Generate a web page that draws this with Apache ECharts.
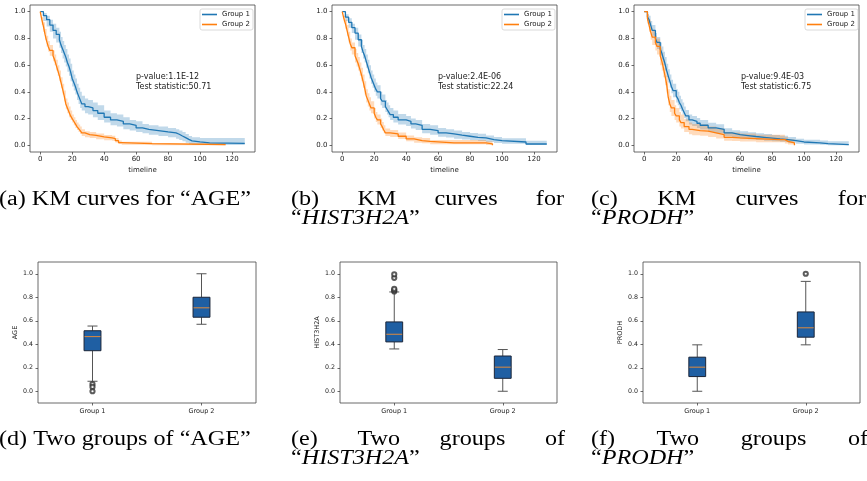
<!DOCTYPE html>
<html>
<head>
<meta charset="utf-8">
<script src="https://cdn.jsdelivr.net/npm/echarts@6/dist/echarts.min.js"></script>
<style>
  html, body { margin: 0; padding: 0; background: #fff; }
  #chart { width: 867px; height: 481px; }
</style>
</head>
<body>
<div id="chart"></div>
<script>
// Kaplan-Meier estimates: rows of [time, survival, lower CI, upper CI]
const kmAgeG1 = [
  [0,1.00,1.00,1.00],[2,0.97,0.93,0.99],[4,0.94,0.89,0.97],[6,0.90,0.85,0.94],
  [8,0.86,0.80,0.91],[10,0.83,0.77,0.88],[12,0.79,0.73,0.85],[13,0.75,0.69,0.81],
  [14,0.72,0.65,0.78],[15,0.69,0.62,0.75],[16,0.66,0.59,0.72],[17,0.62,0.55,0.68],
  [18,0.59,0.52,0.65],[19,0.55,0.48,0.61],[20,0.50,0.44,0.56],[21,0.47,0.41,0.53],
  [22,0.44,0.38,0.50],[23,0.40,0.34,0.46],[24,0.37,0.31,0.43],[25,0.34,0.28,0.40],
  [26,0.31,0.26,0.37],[28,0.29,0.24,0.35],[30,0.28,0.23,0.34],[33,0.26,0.21,0.32],
  [36,0.24,0.19,0.30],[40,0.21,0.17,0.26],[44,0.19,0.15,0.24],[48,0.18,0.14,0.23],
  [52,0.16,0.12,0.21],[56,0.15,0.11,0.19],[60,0.13,0.10,0.18],[64,0.12,0.09,0.16],
  [68,0.11,0.08,0.15],[74,0.10,0.07,0.14],[80,0.093,0.06,0.13],[85,0.083,0.05,0.12],
  [87,0.07,0.04,0.11],[89,0.058,0.03,0.10],[91,0.045,0.02,0.085],[93,0.033,0.01,0.07],
  [95,0.025,0.005,0.06],[100,0.018,0.002,0.055],[106,0.015,0.002,0.055],[128,0.013,0.0,0.05]
];
const kmAgeG2 = [
  [0,1.00,1.00,1.00],[1,0.94,0.90,0.96],[2,0.89,0.85,0.92],[3,0.83,0.79,0.87],
  [4,0.78,0.74,0.82],[5,0.74,0.70,0.78],[6,0.71,0.67,0.75],[8,0.67,0.63,0.71],
  [9,0.64,0.60,0.68],[10,0.60,0.56,0.64],[11,0.56,0.52,0.60],[12,0.52,0.48,0.56],
  [13,0.47,0.43,0.51],[14,0.42,0.38,0.46],[15,0.37,0.33,0.41],[16,0.31,0.27,0.35],
  [17,0.28,0.24,0.32],[18,0.25,0.21,0.29],[19,0.22,0.19,0.26],[20,0.20,0.17,0.23],
  [21,0.18,0.15,0.21],[22,0.16,0.13,0.19],[23,0.14,0.115,0.17],[24,0.125,0.10,0.155],
  [25,0.11,0.085,0.14],[26,0.093,0.07,0.12],[28,0.08,0.06,0.105],[31,0.074,0.055,0.10],
  [35,0.063,0.045,0.088],[40,0.055,0.038,0.078],[45,0.05,0.034,0.072],[47,0.035,0.022,0.055],
  [49,0.02,0.01,0.036],[51,0.013,0.005,0.027],[70,0.005,0.001,0.018],[116,0.005,0.001,0.018]
];
const kmHistG1 = [
  [0,1.0,1.0,1.0],[2,0.96,0.93,0.98],[4,0.92,0.88,0.95],[6,0.88,0.84,0.91],
  [8,0.84,0.79,0.88],[10,0.79,0.74,0.83],[12,0.74,0.69,0.79],[13,0.70,0.65,0.75],
  [14,0.67,0.62,0.72],[15,0.63,0.58,0.68],[16,0.59,0.54,0.64],[17,0.55,0.50,0.60],
  [18,0.51,0.46,0.56],[19,0.48,0.43,0.53],[20,0.45,0.40,0.50],[21,0.42,0.37,0.47],
  [22,0.40,0.35,0.45],[24,0.35,0.30,0.40],[25,0.33,0.28,0.38],[27,0.29,0.25,0.34],
  [28,0.27,0.23,0.32],[29,0.25,0.21,0.30],[30,0.23,0.19,0.28],[32,0.21,0.17,0.26],
  [35,0.19,0.155,0.235],[40,0.18,0.145,0.22],[43,0.16,0.125,0.20],[46,0.15,0.115,0.19],
  [50,0.12,0.09,0.16],[55,0.11,0.08,0.15],[60,0.093,0.065,0.13],[65,0.085,0.058,0.12],
  [70,0.076,0.05,0.11],[75,0.068,0.044,0.10],[80,0.06,0.037,0.092],[85,0.055,0.033,0.087],
  [90,0.043,0.024,0.073],[95,0.035,0.018,0.063],[100,0.025,0.011,0.052],[115,0.01,0.002,0.035],
  [128,0.005,0.0,0.03]
];
const kmHistG2 = [
  [0,1.0,1.0,1.0],[1,0.95,0.92,0.97],[2,0.91,0.87,0.94],[3,0.86,0.82,0.90],
  [4,0.81,0.77,0.85],[5,0.76,0.71,0.80],[6,0.73,0.68,0.77],[8,0.67,0.62,0.72],
  [9,0.64,0.59,0.69],[10,0.61,0.56,0.66],[11,0.57,0.52,0.62],[12,0.53,0.48,0.58],
  [13,0.48,0.43,0.53],[14,0.43,0.38,0.48],[15,0.37,0.32,0.42],[16,0.34,0.29,0.39],
  [17,0.31,0.26,0.36],[18,0.28,0.24,0.33],[20,0.24,0.20,0.28],[21,0.21,0.175,0.25],
  [22,0.19,0.155,0.23],[24,0.16,0.13,0.20],[25,0.14,0.11,0.175],[26,0.115,0.09,0.15],
  [27,0.093,0.07,0.125],[30,0.085,0.063,0.115],[35,0.068,0.048,0.096],[40,0.048,0.031,0.074],
  [45,0.035,0.02,0.06],[50,0.03,0.016,0.054],[55,0.018,0.008,0.04],[70,0.018,0.008,0.04],
  [90,0.01,0.003,0.03],[94,0.0,0.0,0.015]
];
const kmProdhG1 = [
  [0,1.0,1.0,1.0],[2,0.96,0.93,0.98],[3,0.94,0.90,0.97],[4,0.90,0.86,0.93],
  [5,0.86,0.82,0.90],[7,0.80,0.75,0.84],[8,0.77,0.72,0.81],[10,0.72,0.67,0.77],
  [11,0.69,0.64,0.74],[12,0.65,0.60,0.70],[13,0.61,0.56,0.66],[14,0.56,0.51,0.61],
  [15,0.52,0.47,0.57],[16,0.48,0.43,0.53],[17,0.44,0.39,0.49],[18,0.41,0.36,0.46],
  [20,0.37,0.32,0.42],[21,0.35,0.30,0.40],[22,0.32,0.27,0.37],[23,0.30,0.255,0.345],
  [24,0.27,0.23,0.32],[25,0.245,0.205,0.29],[26,0.22,0.18,0.265],[28,0.19,0.155,0.23],
  [30,0.18,0.145,0.22],[33,0.165,0.13,0.205],[35,0.15,0.118,0.19],[40,0.13,0.10,0.168],
  [45,0.12,0.09,0.158],[50,0.093,0.068,0.128],[55,0.08,0.057,0.113],[60,0.073,0.051,0.105],
  [65,0.066,0.045,0.097],[70,0.06,0.04,0.09],[75,0.054,0.035,0.084],[80,0.048,0.03,0.077],
  [85,0.043,0.026,0.071],[90,0.035,0.02,0.062],[95,0.025,0.012,0.05],[100,0.018,0.007,0.042],
  [110,0.013,0.004,0.036],[115,0.005,0.0,0.03],[128,0.005,0.0,0.028]
];
const kmProdhG2 = [
  [0,1.0,1.0,1.0],[2,0.95,0.91,0.98],[3,0.90,0.85,0.94],[4,0.85,0.79,0.89],
  [5,0.81,0.75,0.86],[7,0.77,0.71,0.82],[8,0.74,0.68,0.80],[10,0.67,0.60,0.73],
  [11,0.63,0.56,0.69],[12,0.58,0.51,0.64],[13,0.52,0.45,0.58],[14,0.46,0.39,0.52],
  [15,0.36,0.30,0.42],[16,0.31,0.25,0.37],[17,0.28,0.22,0.34],[19,0.24,0.19,0.30],
  [20,0.22,0.17,0.28],[22,0.19,0.14,0.25],[23,0.17,0.125,0.23],[25,0.14,0.10,0.195],
  [28,0.12,0.083,0.17],[30,0.11,0.075,0.16],[35,0.106,0.072,0.155],[40,0.093,0.062,0.14],
  [45,0.08,0.051,0.125],[50,0.06,0.035,0.10],[55,0.055,0.032,0.095],[60,0.05,0.028,0.088],
  [70,0.043,0.023,0.08],[85,0.043,0.023,0.08],[88,0.03,0.014,0.063],[90,0.018,0.006,0.045],
  [94,0.0,0.0,0.03]
];

// Log-rank test results per feature
const pValues = ['1.1E-12', '2.4E-06', '9.4E-03'];
const testStats = ['50.71', '22.24', '6.75'];

// Box statistics per group: [lower whisker, Q1, median, Q3, upper whisker]
const groupNames = ['Group 1', 'Group 2'];
const ageBox = [[0.085, 0.345, 0.465, 0.515, 0.555], [0.57, 0.63, 0.71, 0.80, 1.0]];
const ageOutliers = [[0, 0.06], [0, 0.037], [0, 0.0]];
const histBox = [[0.36, 0.42, 0.485, 0.59, 0.845], [0.0, 0.11, 0.205, 0.30, 0.355]];
const histOutliers = [[0, 0.85], [0, 0.86], [0, 0.872], [0, 0.965], [0, 0.995]];
const prodhBox = [[0.0, 0.125, 0.205, 0.29, 0.395], [0.395, 0.46, 0.54, 0.675, 0.935]];
const prodhOutliers = [[1, 1.0]];
const featureNames = ['AGE', 'HIST3H2A', 'PRODH'];

const timeTicks = [0, 20, 40, 60, 80, 100, 120];
const kmTicks = [0, 0.2, 0.4, 0.6, 0.8, 1.0];
const boxTicks = [0, 0.2, 0.4, 0.6, 0.8, 1.0];

// Sub-figure captions (words of each typeset line)
const captionLines = [
  { words: ['(a)', 'KM', 'curves', 'for', '“AGE”'] },
  { words: ['(b)', 'KM', 'curves', 'for'] },
  { rich: '“{i|HIST3H2A}”' },
  { words: ['(c)', 'KM', 'curves', 'for'] },
  { rich: '“{i|PRODH}”' },
  { words: ['(d)', 'Two', 'groups', 'of', '“AGE”'] },
  { words: ['(e)', 'Two', 'groups', 'of'] },
  { rich: '“{i|HIST3H2A}”' },
  { words: ['(f)', 'Two', 'groups', 'of'] },
  { rich: '“{i|PRODH}”' }
];
// Where each caption line sits: column left/right, baseline row, justified or natural spacing
const captionLayout = [
  { x0: -1, x1: 251, y: 200, justify: false },
  { x0: 291, x1: 564, y: 200, justify: true },
  { x0: 291, y: 219 },
  { x0: 591, x1: 866, y: 200, justify: true },
  { x0: 591, y: 219 },
  { x0: -1, x1: 247, y: 440, justify: false },
  { x0: 291, x1: 565, y: 440, justify: true },
  { x0: 291, y: 459 },
  { x0: 591, x1: 868, y: 440, justify: true },
  { x0: 591, y: 459 }
];

const BLUE = '#1f77b4', ORANGE = '#ff7f0e';
const BLUE_BAND = 'rgba(31,119,180,0.28)', ORANGE_BAND = 'rgba(255,127,14,0.28)';
const SANS = '"DejaVu Sans", sans-serif';
const SERIF_SIZE = 20;
const SERIF = SERIF_SIZE + 'px "Liberation Serif", serif';
const TXT = '#222';

const kmGrids = [
  { left: 30, top: 5, width: 225, height: 147 },
  { left: 332, top: 5, width: 225, height: 147 },
  { left: 634, top: 5, width: 225, height: 147 }
];
const boxGrids = [
  { left: 38, top: 262, width: 218, height: 141 },
  { left: 340, top: 262, width: 217, height: 141 },
  { left: 643, top: 262, width: 217, height: 141 }
];
const legendPos = [{ left: 200, top: 9 }, { left: 502, top: 9 }, { left: 805, top: 9 }];
const statPos = [{ x: 136, y: 82 }, { x: 438, y: 82 }, { x: 741, y: 82 }];
const yNameGap = [19, 19, 19];

const kmCurves = [[kmAgeG1, kmAgeG2], [kmHistG1, kmHistG2], [kmProdhG1, kmProdhG2]];
const boxSets = [[ageBox, ageOutliers], [histBox, histOutliers], [prodhBox, prodhOutliers]];

const grids = [], xAxes = [], yAxes = [], series = [], legends = [], graphics = [];

function frame(g) {
  return Object.assign({ show: true, borderColor: '#444', borderWidth: 0.8, backgroundColor: 'transparent', containLabel: false }, g);
}

// Step-shaped confidence band drawn as a single polygon
function bandSeries(rows, fill, gi) {
  return {
    type: 'custom', xAxisIndex: gi, yAxisIndex: gi, silent: true, z: 1,
    data: [[0, 0]],
    renderItem: function (params, api) {
      const upper = [], lower = [];
      for (let i = 0; i < rows.length; i++) {
        const t = rows[i][0];
        const tn = i + 1 < rows.length ? rows[i + 1][0] : t;
        upper.push(api.coord([t, rows[i][3]]), api.coord([tn, rows[i][3]]));
        lower.push(api.coord([t, rows[i][2]]), api.coord([tn, rows[i][2]]));
      }
      const pts = upper.concat(lower.reverse());
      return { type: 'polygon', shape: { points: pts }, style: { fill: fill } };
    }
  };
}

kmGrids.forEach(function (g, i) {
  grids.push(frame(g));
  xAxes.push({
    type: 'value', gridIndex: i, min: -6.4, max: 134.4,
    name: 'timeline', nameLocation: 'middle', nameGap: 14.5,
    nameTextStyle: { fontFamily: SANS, fontSize: 7, color: TXT },
    axisLine: { show: false, onZero: false },
    axisTick: { show: true, inside: false, length: 2.5, customValues: timeTicks, lineStyle: { color: '#444', width: 0.8 } },
    axisLabel: { customValues: timeTicks, margin: 4, fontFamily: SANS, fontSize: 7, color: TXT },
    splitLine: { show: false }
  });
  yAxes.push({
    type: 'value', gridIndex: i, min: -0.05, max: 1.05,
    axisLine: { show: false, onZero: false },
    axisTick: { show: true, inside: false, length: 2.5, customValues: kmTicks, lineStyle: { color: '#444', width: 0.8 } },
    axisLabel: { customValues: kmTicks, margin: 4.5, fontFamily: SANS, fontSize: 7, color: TXT,
      formatter: function (v) { return v.toFixed(1); } },
    splitLine: { show: false }
  });
  const g1 = kmCurves[i][0], g2 = kmCurves[i][1];
  series.push(bandSeries(g1, BLUE_BAND, i));
  series.push(bandSeries(g2, ORANGE_BAND, i));
  series.push({
    name: 'Group 1', type: 'line', xAxisIndex: i, yAxisIndex: i, step: 'end', showSymbol: false, symbol: 'none',
    color: BLUE, lineStyle: { width: 1.3, color: BLUE }, z: 3,
    data: g1.map(function (r) { return [r[0], r[1]]; })
  });
  series.push({
    name: 'Group 2', type: 'line', xAxisIndex: i, yAxisIndex: i, step: 'end', showSymbol: false, symbol: 'none',
    color: ORANGE, lineStyle: { width: 1.3, color: ORANGE }, z: 3,
    data: g2.map(function (r) { return [r[0], r[1]]; })
  });
  legends.push({
    left: legendPos[i].left, top: legendPos[i].top, orient: 'vertical',
    data: ['Group 1', 'Group 2'], icon: 'rect', itemWidth: 15, itemHeight: 1.6, itemGap: 3, itemTextGap: 5,
    padding: [2, 3, 2, 2], borderColor: '#d0d0d0', borderWidth: 0.8, borderRadius: 2,
    backgroundColor: 'rgba(255,255,255,0.85)', selectedMode: false,
    textStyle: { fontFamily: SANS, fontSize: 7, color: TXT }
  });
  graphics.push({
    type: 'text', x: statPos[i].x, y: statPos[i].y,
    style: { text: 'p-value:' + pValues[i] + '\nTest statistic:' + testStats[i], font: '8px ' + SANS,
      fill: TXT, lineHeight: 10.6, verticalAlign: 'middle' }
  });
});

// Box-and-whisker glyph drawn from [category, min, Q1, median, Q3, max]
function boxRender(params, api) {
  const c = api.value(0);
  const pMin = api.coord([c, api.value(1)]);
  const pQ1 = api.coord([c, api.value(2)]);
  const pMed = api.coord([c, api.value(3)]);
  const pQ3 = api.coord([c, api.value(4)]);
  const pMax = api.coord([c, api.value(5)]);
  const band = api.size([1, 0])[0];
  const bw = band * 0.155, cw = band * 0.092;
  const x = pMin[0];
  const wl = { stroke: '#555', lineWidth: 1 };
  return {
    type: 'group', children: [
      { type: 'line', shape: { x1: x, y1: pMin[1], x2: x, y2: pQ1[1] }, style: wl },
      { type: 'line', shape: { x1: x, y1: pQ3[1], x2: x, y2: pMax[1] }, style: wl },
      { type: 'line', shape: { x1: x - cw / 2, y1: pMin[1], x2: x + cw / 2, y2: pMin[1] }, style: wl },
      { type: 'line', shape: { x1: x - cw / 2, y1: pMax[1], x2: x + cw / 2, y2: pMax[1] }, style: wl },
      { type: 'rect', shape: { x: x - bw / 2, y: pQ3[1], width: bw, height: pQ1[1] - pQ3[1] },
        style: { fill: '#1f5fa3', stroke: '#1b2538', lineWidth: 1 } },
      { type: 'line', shape: { x1: x - bw / 2 + 0.5, y1: pMed[1], x2: x + bw / 2 - 0.5, y2: pMed[1] },
        style: { stroke: '#e08a3c', lineWidth: 1 } }
    ]
  };
}

boxGrids.forEach(function (g, k) {
  const i = k + 3;
  grids.push(frame(g));
  xAxes.push({
    type: 'category', gridIndex: i, data: groupNames, boundaryGap: true,
    axisLine: { show: false, onZero: false },
    axisTick: { show: true, alignWithLabel: true, inside: false, length: 2.5, lineStyle: { color: '#444', width: 0.8 } },
    axisLabel: { margin: 5, fontFamily: SANS, fontSize: 6.5, color: TXT },
    splitLine: { show: false }
  });
  yAxes.push({
    type: 'value', gridIndex: i, min: -0.1, max: 1.1,
    name: featureNames[k], nameLocation: 'middle', nameGap: yNameGap[k], nameRotate: 90,
    nameTextStyle: { fontFamily: SANS, fontSize: 6.5, color: TXT },
    axisLine: { show: false, onZero: false },
    axisTick: { show: true, inside: false, length: 2.5, customValues: boxTicks, lineStyle: { color: '#444', width: 0.8 } },
    axisLabel: { customValues: boxTicks, margin: 5, fontFamily: SANS, fontSize: 6.3, color: TXT,
      formatter: function (v) { return v.toFixed(1); } },
    splitLine: { show: false }
  });
  const stats = boxSets[k][0], outl = boxSets[k][1];
  series.push({
    type: 'custom', xAxisIndex: i, yAxisIndex: i, silent: true, z: 2,
    encode: { x: 0, y: [1, 2, 3, 4, 5] },
    data: stats.map(function (s, j) { return [j].concat(s); }),
    renderItem: boxRender
  });
  series.push({
    type: 'scatter', xAxisIndex: i, yAxisIndex: i, silent: true, z: 3,
    symbol: 'emptyCircle', symbolSize: 4.2,
    itemStyle: { color: '#333', borderColor: '#333', borderWidth: 0.9 },
    data: outl
  });
});

// Caption typesetting: the serif face is widened so a natural line spans its column,
// and multi-word lines that wrap are justified across the column.
const measureCtx = document.createElement('canvas').getContext('2d');
measureCtx.font = SERIF;
function textWidth(s) { return measureCtx.measureText(s).width; }
const firstLine = captionLines[0].words.join(' ');
const stretch = (captionLayout[0].x1 - captionLayout[0].x0) / textWidth(firstLine);

captionLines.forEach(function (line, n) {
  const lay = captionLayout[n];
  const base = {
    font: SERIF, fill: '#000', verticalAlign: 'middle',
    rich: { i: { fontStyle: 'italic', fontFamily: '"Liberation Serif", serif', fontSize: SERIF_SIZE, fill: '#000' } }
  };
  if (line.rich) {
    graphics.push({ type: 'text', x: lay.x0, y: lay.y, scaleX: stretch, style: Object.assign({ text: line.rich }, base) });
    return;
  }
  if (!lay.justify) {
    graphics.push({ type: 'text', x: lay.x0, y: lay.y, scaleX: stretch, style: Object.assign({ text: line.words.join(' ') }, base) });
    return;
  }
  const widths = line.words.map(function (w) { return textWidth(w) * stretch; });
  const total = widths.reduce(function (a, b) { return a + b; }, 0);
  const gap = (lay.x1 - lay.x0 - total) / (line.words.length - 1);
  let x = lay.x0;
  line.words.forEach(function (w, j) {
    graphics.push({ type: 'text', x: x, y: lay.y, scaleX: stretch, style: Object.assign({ text: w }, base) });
    x += widths[j] + gap;
  });
});

const chart = echarts.init(document.getElementById('chart'), null, { renderer: 'canvas' });
chart.setOption({
  animation: false,
  backgroundColor: '#fff',
  grid: grids,
  xAxis: xAxes,
  yAxis: yAxes,
  legend: legends,
  series: series,
  graphic: { elements: graphics }
});
</script>
</body>
</html>
